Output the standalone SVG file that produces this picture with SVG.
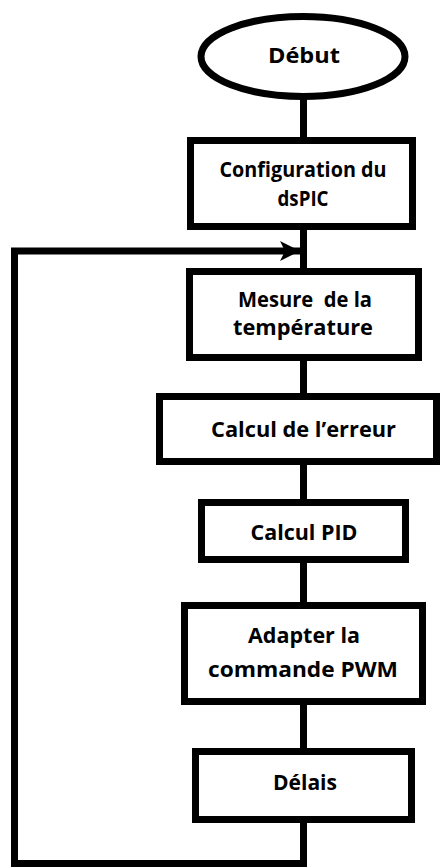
<svg xmlns="http://www.w3.org/2000/svg" width="441" height="867" viewBox="0 0 441 867">
<defs>
<style>
.box{fill:#fff;stroke:#000;stroke-width:7}
.ln{fill:none;stroke:#000;stroke-width:7;stroke-linejoin:miter;stroke-linecap:butt}
.t{font-family:"Open Sans",Lato,"Liberation Sans",sans-serif;font-weight:bold;font-size:21.5px;fill:#000;text-anchor:middle}
</style>
<marker id="ah" markerUnits="userSpaceOnUse" markerWidth="22" markerHeight="22" refX="20" refY="11" orient="auto" viewBox="0 0 22 22">
<path d="M0,1 L20,11 L0,21 L5,11 Z" fill="#000"/>
</marker>
</defs>
<rect width="441" height="867" fill="#fff"/>
<g id="connectors">
<line class="ln" x1="303.5" y1="96" x2="303.5" y2="140"/>
<line class="ln" x1="303.5" y1="227" x2="303.5" y2="272"/>
<line class="ln" x1="303.5" y1="358" x2="303.5" y2="397"/>
<line class="ln" x1="303.5" y1="461" x2="303.5" y2="503"/>
<line class="ln" x1="303.5" y1="560" x2="303.5" y2="606"/>
<line class="ln" x1="303.5" y1="701" x2="303.5" y2="752"/>
<polyline class="ln" points="303.5,819 303.5,863.5 14.5,863.5 14.5,251 300,251" marker-end="url(#ah)"/>
</g>
<g id="debut">
<ellipse class="box" cx="303" cy="56.5" rx="102" ry="40"/>
<text class="t" x="304" y="63" textLength="72" lengthAdjust="spacingAndGlyphs">Début</text>
</g>
<g id="config">
<rect class="box" x="190.5" y="140.5" width="222" height="86"/>
<text class="t" x="303" y="177" textLength="167" lengthAdjust="spacingAndGlyphs">Configuration du</text>
<text class="t" x="303" y="206" textLength="51" lengthAdjust="spacingAndGlyphs">dsPIC</text>
</g>
<g id="mesure">
<rect class="box" x="189.5" y="271.5" width="229" height="86"/>
<text class="t" x="305" y="307" xml:space="preserve" textLength="134" lengthAdjust="spacingAndGlyphs">Mesure  de la</text>
<text class="t" x="303" y="335" textLength="140" lengthAdjust="spacingAndGlyphs">température</text>
</g>
<g id="erreur">
<rect class="box" x="159.5" y="396.5" width="277" height="65"/>
<text class="t" x="303.5" y="437" textLength="185" lengthAdjust="spacingAndGlyphs">Calcul de l’erreur</text>
</g>
<g id="pid">
<rect class="box" x="201.5" y="502.5" width="204" height="57"/>
<text class="t" x="304" y="540" textLength="107" lengthAdjust="spacingAndGlyphs">Calcul PID</text>
</g>
<g id="adapter">
<rect class="box" x="184.5" y="605.5" width="238" height="96"/>
<text class="t" x="304" y="643" textLength="112" lengthAdjust="spacingAndGlyphs">Adapter la</text>
<text class="t" x="303" y="677" textLength="190" lengthAdjust="spacingAndGlyphs">commande PWM</text>
</g>
<g id="delais">
<rect class="box" x="195.5" y="751.5" width="216" height="68"/>
<text class="t" x="305" y="790" textLength="64" lengthAdjust="spacingAndGlyphs">Délais</text>
</g>
</svg>
